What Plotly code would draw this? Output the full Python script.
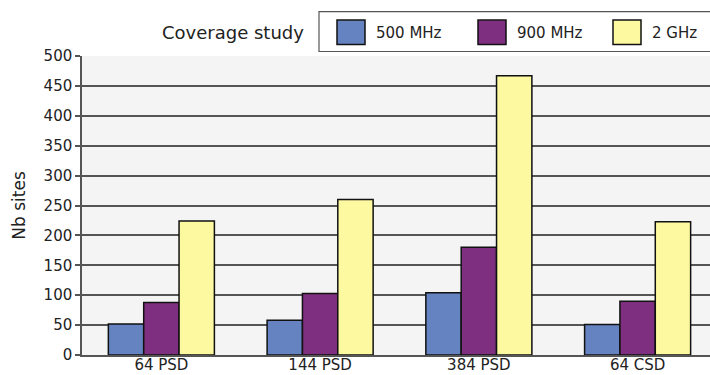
import plotly.graph_objects as go

categories = ["64 PSD", "144 PSD", "384 PSD", "64 CSD"]
series_names = ["500 MHz", "900 MHz", "2 GHz"]
values_500mhz = [52, 58, 104, 51]
values_900mhz = [88, 103, 180, 90]
values_2ghz = [224, 260, 467, 223]
y_ticks = [0, 50, 100, 150, 200, 250, 300, 350, 400, 450, 500]
legend_title = "Coverage study"
y_title = "Nb sites"

colors = ["#6683c1", "#7f2f7f", "#fdf9a0"]
series_values = [values_500mhz, values_900mhz, values_2ghz]

W, H = 710, 375
ML, MR, MT, MB = 82, 0, 55.5, 19.5
PW, PH = W - ML - MR, H - MT - MB
FONT = "DejaVu Sans"


def px_x(x):
    return (x - ML) / PW


def px_y(y):
    return (H - MB - y) / PH


fig = go.Figure()
for name, vals, col in zip(series_names, series_values, colors):
    fig.add_trace(go.Bar(
        x=categories, y=vals, name=name,
        marker=dict(color=col, line=dict(color="#111111", width=1.5)),
        showlegend=False,
    ))

shapes = []
annotations = []
# legend box
shapes.append(dict(type="rect", xref="paper", yref="paper",
                   x0=px_x(319), x1=px_x(714), y0=px_y(51), y1=px_y(11),
                   line=dict(color="#555555", width=1.2), fillcolor="white", layer="above"))
annotations.append(dict(xref="paper", yref="paper", x=px_x(306), y=px_y(32),
                        xanchor="right", yanchor="middle", text=legend_title,
                        showarrow=False, font=dict(family=FONT, size=18, color="#222222")))
sq_x = [337, 478, 613]
for i, (name, col) in enumerate(zip(series_names, colors)):
    x0 = sq_x[i]
    shapes.append(dict(type="rect", xref="paper", yref="paper",
                       x0=px_x(x0), x1=px_x(x0 + 28), y0=px_y(44), y1=px_y(19.5),
                       line=dict(color="#111111", width=1.5), fillcolor=col, layer="above"))
    annotations.append(dict(xref="paper", yref="paper", x=px_x(x0 + 37), y=px_y(32.5),
                            xanchor="left", yanchor="middle", text=name,
                            showarrow=False, font=dict(family=FONT, size=15, color="#222222")))

fig.update_layout(
    width=W, height=H,
    margin=dict(l=ML, r=MR, t=MT, b=MB, autoexpand=False),
    paper_bgcolor="white", plot_bgcolor="#f4f4f4",
    barmode="group", bargap=0.332, bargroupgap=0,
    font=dict(family=FONT, size=15, color="#222222"),
    shapes=shapes, annotations=annotations,
    showlegend=False,
)
fig.update_xaxes(
    type="category", range=[-0.5, 3.456],
    showline=True, linecolor="#555555", linewidth=1.5,
    ticks="", showgrid=False, automargin=False,
    ticklabelstandoff=-5,
    tickfont=dict(family=FONT, size=15, color="#222222"),
)
fig.update_yaxes(
    range=[0, 500], tickvals=y_ticks,
    showline=True, linecolor="#555555", linewidth=1.5,
    showgrid=True, gridcolor="#555555", gridwidth=1.5,
    ticks="outside", ticklen=5, tickcolor="#555555", tickwidth=1.5,
    zeroline=False, automargin=False,
    tickfont=dict(family=FONT, size=15, color="#222222"),
    title=dict(text=y_title, font=dict(family=FONT, size=17, color="#222222"), standoff=14),
)
fig.write_html(
    "out.html",
    config={"displayModeBar": False},
    post_script="document.body.style.margin='0';document.body.style.overflow='hidden';",
)
